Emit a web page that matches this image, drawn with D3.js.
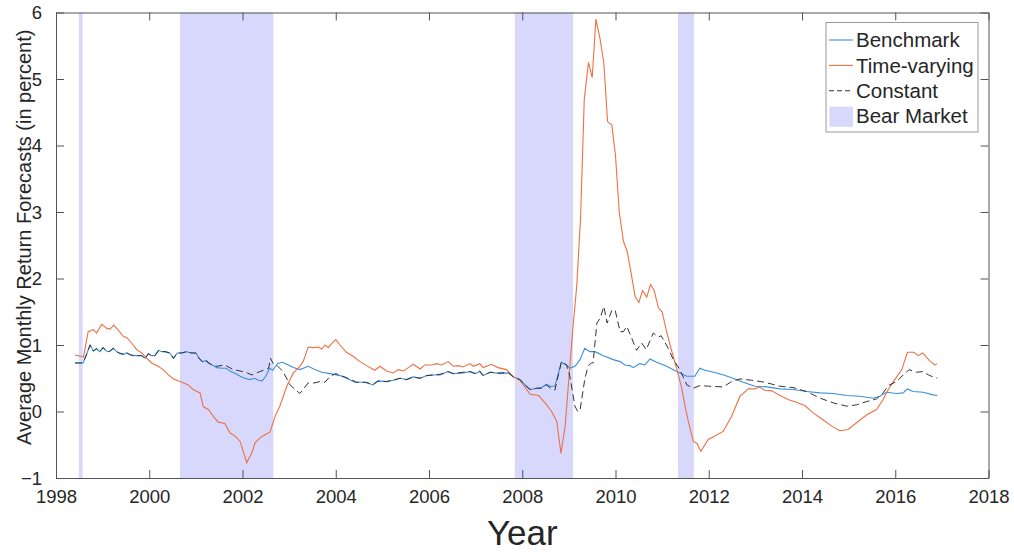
<!DOCTYPE html>
<html>
<head>
<meta charset="utf-8">
<script src="https://cdn.jsdelivr.net/npm/d3@7"></script>
<style>
  html, body { margin: 0; padding: 0; background: #fff; }
  svg { display: block; }
  text { font-family: "Liberation Sans", Arial, Helvetica, sans-serif; fill: #262626; }
</style>
</head>
<body>
<svg id="chart" width="1014" height="554"></svg>
<script>
// ---- Data ----
const xTicks = [1998, 2000, 2002, 2004, 2006, 2008, 2010, 2012, 2014, 2016, 2018];
const yTicks = [-1, 0, 1, 2, 3, 4, 5, 6];
const seriesNames = ["Benchmark", "Time-varying", "Constant", "Bear Market"];

const bearMarkets = [
  [1998.49, 1998.57],
  [2000.66, 2002.66],
  [2007.84, 2009.09],
  [2011.34, 2011.68]
];

const benchmark = [
  [1998.41,0.73],[1998.50,0.73],[1998.58,0.73],[1998.65,0.85],[1998.73,1.00],[1998.80,0.91],
  [1998.87,0.94],[1998.94,0.90],[1999.01,0.96],[1999.08,0.91],[1999.14,0.90],[1999.23,0.95],
  [1999.30,0.90],[1999.37,0.88],[1999.45,0.86],[1999.52,0.88],[1999.60,0.85],[1999.68,0.84],
  [1999.76,0.84],[1999.84,0.84],[1999.91,0.80],[1999.98,0.87],[2000.05,0.84],[2000.12,0.84],
  [2000.20,0.92],[2000.27,0.90],[2000.34,0.90],[2000.44,0.88],[2000.52,0.80],[2000.60,0.88],
  [2000.70,0.88],[2000.80,0.90],[2000.90,0.88],[2001.00,0.88],[2001.07,0.80],[2001.14,0.75],
  [2001.21,0.76],[2001.28,0.72],[2001.35,0.70],[2001.45,0.66],[2001.55,0.65],[2001.65,0.65],
  [2001.75,0.60],[2001.85,0.57],[2001.95,0.53],[2002.05,0.50],[2002.15,0.48],[2002.25,0.50],
  [2002.35,0.47],[2002.42,0.46],[2002.50,0.53],[2002.58,0.65],[2002.65,0.62],[2002.75,0.72],
  [2002.85,0.74],[2002.95,0.71],[2003.09,0.66],[2003.23,0.63],[2003.41,0.68],[2003.55,0.63],
  [2003.70,0.59],[2003.88,0.57],[2004.09,0.54],[2004.23,0.50],[2004.41,0.44],[2004.63,0.44],
  [2004.80,0.40],[2004.91,0.46],[2005.09,0.45],[2005.23,0.47],[2005.38,0.50],[2005.52,0.48],
  [2005.66,0.52],[2005.81,0.50],[2005.95,0.54],[2006.09,0.55],[2006.24,0.55],[2006.41,0.60],
  [2006.52,0.57],[2006.73,0.58],[2006.88,0.60],[2006.99,0.57],[2007.09,0.60],[2007.16,0.54],
  [2007.31,0.59],[2007.52,0.57],[2007.70,0.58],[2007.81,0.52],[2007.95,0.48],[2008.02,0.43],
  [2008.17,0.33],[2008.31,0.35],[2008.42,0.36],[2008.52,0.41],[2008.59,0.38],[2008.70,0.38],
  [2008.84,0.74],[2008.95,0.70],[2009.02,0.65],[2009.13,0.68],[2009.24,0.78],[2009.34,0.95],
  [2009.45,0.90],[2009.56,0.90],[2009.74,0.84],[2009.95,0.78],[2010.10,0.75],[2010.20,0.70],
  [2010.31,0.69],[2010.38,0.66],[2010.52,0.72],[2010.63,0.70],[2010.74,0.79],[2010.88,0.74],
  [2011.10,0.68],[2011.31,0.60],[2011.53,0.53],[2011.70,0.53],[2011.81,0.65],[2011.92,0.62],
  [2012.17,0.58],[2012.35,0.54],[2012.52,0.50],[2012.74,0.44],[2012.99,0.38],[2013.24,0.37],
  [2013.53,0.34],[2013.81,0.33],[2014.10,0.30],[2014.39,0.28],[2014.67,0.27],[2014.96,0.24],
  [2015.24,0.23],[2015.53,0.20],[2015.67,0.23],[2015.81,0.29],[2016.03,0.27],[2016.17,0.28],
  [2016.26,0.34],[2016.38,0.30],[2016.60,0.29],[2016.81,0.25],[2016.90,0.24]
];

const timeVarying = [
  [1998.41,0.85],[1998.59,0.82],[1998.69,1.20],[1998.80,1.23],[1998.87,1.18],[1998.98,1.31],
  [1999.09,1.25],[1999.16,1.24],[1999.24,1.30],[1999.34,1.22],[1999.44,1.13],[1999.52,1.11],
  [1999.62,1.03],[1999.73,0.93],[1999.84,0.88],[1999.95,0.80],[2000.05,0.73],[2000.19,0.68],
  [2000.30,0.63],[2000.41,0.55],[2000.52,0.49],[2000.66,0.45],[2000.84,0.40],[2000.94,0.33],
  [2001.09,0.28],[2001.16,0.07],[2001.27,0.03],[2001.37,-0.07],[2001.48,-0.16],[2001.62,-0.18],
  [2001.73,-0.32],[2001.84,-0.37],[2001.95,-0.45],[2002.09,-0.77],[2002.20,-0.62],[2002.27,-0.47],
  [2002.37,-0.40],[2002.48,-0.35],[2002.59,-0.31],[2002.70,-0.07],[2002.80,0.08],[2002.95,0.38],
  [2003.09,0.58],[2003.23,0.68],[2003.30,0.75],[2003.41,0.97],[2003.52,0.96],[2003.63,0.97],
  [2003.70,0.94],[2003.77,1.00],[2003.84,0.96],[2003.91,1.02],[2004.00,1.08],[2004.09,1.00],
  [2004.23,0.89],[2004.37,0.83],[2004.52,0.75],[2004.66,0.69],[2004.84,0.62],[2004.95,0.68],
  [2005.09,0.61],[2005.23,0.58],[2005.34,0.63],[2005.45,0.61],[2005.56,0.66],[2005.66,0.71],
  [2005.81,0.64],[2005.91,0.70],[2006.06,0.70],[2006.16,0.72],[2006.27,0.70],[2006.41,0.75],
  [2006.52,0.68],[2006.63,0.69],[2006.73,0.67],[2006.88,0.72],[2006.95,0.68],[2007.09,0.72],
  [2007.16,0.66],[2007.34,0.71],[2007.48,0.66],[2007.66,0.63],[2007.81,0.52],[2007.95,0.47],
  [2008.17,0.26],[2008.35,0.24],[2008.49,0.13],[2008.63,0.00],[2008.74,-0.15],[2008.83,-0.63],
  [2008.92,-0.22],[2009.00,0.50],[2009.08,1.20],[2009.17,1.90],[2009.25,2.90],[2009.33,4.69],
  [2009.42,5.25],[2009.50,5.02],[2009.58,5.90],[2009.67,5.60],[2009.75,5.24],[2009.83,4.36],
  [2009.92,4.31],[2010.00,3.85],[2010.08,3.00],[2010.17,2.56],[2010.25,2.41],[2010.33,2.10],
  [2010.42,1.73],[2010.50,1.64],[2010.58,1.82],[2010.67,1.72],[2010.75,1.91],[2010.83,1.82],
  [2010.92,1.56],[2011.00,1.50],[2011.08,1.25],[2011.17,1.00],[2011.25,0.80],[2011.33,0.60],
  [2011.42,0.35],[2011.50,0.05],[2011.58,-0.20],[2011.67,-0.45],[2011.75,-0.48],[2011.83,-0.60],
  [2011.99,-0.42],[2012.13,-0.37],[2012.31,-0.30],[2012.49,-0.07],[2012.67,0.23],[2012.85,0.34],
  [2012.99,0.34],[2013.08,0.37],[2013.20,0.32],[2013.35,0.31],[2013.53,0.24],[2013.70,0.18],
  [2013.88,0.14],[2014.06,0.09],[2014.24,-0.02],[2014.42,-0.11],[2014.64,-0.22],[2014.81,-0.29],
  [2014.99,-0.27],[2015.17,-0.17],[2015.39,-0.05],[2015.60,0.03],[2015.74,0.18],[2015.85,0.33],
  [2015.99,0.48],[2016.14,0.63],[2016.26,0.89],[2016.40,0.89],[2016.49,0.84],[2016.59,0.88],
  [2016.74,0.76],[2016.85,0.70],[2016.90,0.72]
];

const constant = [
  [1998.41,0.73],[1998.50,0.73],[1998.58,0.73],[1998.65,0.85],[1998.73,1.00],[1998.80,0.91],
  [1998.87,0.95],[1998.94,0.90],[1999.01,0.96],[1999.08,0.91],[1999.14,0.90],[1999.23,0.95],
  [1999.30,0.90],[1999.37,0.87],[1999.45,0.86],[1999.52,0.88],[1999.60,0.85],[1999.68,0.84],
  [1999.76,0.84],[1999.84,0.84],[1999.91,0.79],[1999.98,0.87],[2000.05,0.84],[2000.12,0.84],
  [2000.20,0.92],[2000.27,0.90],[2000.34,0.90],[2000.44,0.88],[2000.52,0.80],[2000.60,0.88],
  [2000.70,0.88],[2000.80,0.90],[2000.90,0.88],[2001.00,0.88],[2001.07,0.80],[2001.14,0.75],
  [2001.21,0.78],[2001.28,0.73],[2001.35,0.70],[2001.45,0.68],[2001.62,0.70],[2001.80,0.63],
  [2001.95,0.61],[2002.10,0.58],[2002.20,0.55],[2002.30,0.58],[2002.45,0.62],[2002.56,0.65],
  [2002.60,0.80],[2002.66,0.72],[2002.73,0.70],[2002.87,0.60],[2003.02,0.40],[2003.23,0.27],
  [2003.41,0.43],[2003.55,0.43],[2003.66,0.45],[2003.77,0.44],[2003.88,0.53],[2004.00,0.57],
  [2004.23,0.51],[2004.45,0.44],[2004.63,0.44],[2004.80,0.41],[2004.91,0.46],[2005.09,0.45],
  [2005.23,0.47],[2005.38,0.50],[2005.52,0.48],[2005.66,0.52],[2005.81,0.50],[2005.95,0.54],
  [2006.09,0.55],[2006.24,0.56],[2006.41,0.60],[2006.52,0.57],[2006.73,0.59],[2006.88,0.60],
  [2006.99,0.57],[2007.09,0.61],[2007.16,0.54],[2007.31,0.59],[2007.52,0.58],[2007.70,0.59],
  [2007.81,0.52],[2007.95,0.48],[2008.02,0.42],[2008.17,0.33],[2008.31,0.35],[2008.42,0.35],
  [2008.52,0.40],[2008.59,0.36],[2008.70,0.32],[2008.84,0.75],[2008.95,0.70],[2009.02,0.53],
  [2009.13,0.08],[2009.19,0.00],[2009.24,0.02],[2009.34,0.48],[2009.41,0.68],[2009.48,0.73],
  [2009.52,0.73],[2009.60,1.33],[2009.67,1.40],[2009.75,1.58],[2009.82,1.33],[2009.92,1.52],
  [2009.99,1.53],[2010.10,1.20],[2010.17,1.20],[2010.24,1.28],[2010.34,1.12],[2010.45,0.92],
  [2010.56,1.03],[2010.66,0.93],[2010.81,1.18],[2010.92,1.12],[2010.98,1.14],[2011.13,0.95],
  [2011.24,0.78],[2011.38,0.63],[2011.53,0.40],[2011.67,0.35],[2011.81,0.39],[2012.00,0.38],
  [2012.31,0.37],[2012.49,0.45],[2012.67,0.49],[2012.92,0.47],[2013.20,0.44],[2013.53,0.38],
  [2013.81,0.36],[2014.10,0.30],[2014.39,0.20],[2014.67,0.13],[2014.96,0.08],[2015.17,0.10],
  [2015.39,0.15],[2015.60,0.19],[2015.74,0.28],[2015.85,0.39],[2016.03,0.45],[2016.17,0.55],
  [2016.30,0.63],[2016.45,0.59],[2016.59,0.60],[2016.74,0.54],[2016.90,0.50]
];

// ---- Layout ----
const svg = d3.select("#chart");
const margin = { left: 56, right: 1014 - 988.5, top: 12.5, bottom: 554 - 478 };
const W = 1014, H = 554;
const x = d3.scaleLinear().domain([1998, 2018]).range([margin.left, W - margin.right]);
const y = d3.scaleLinear().domain([-1, 6]).range([H - margin.bottom, margin.top]);

const colors = { bench: "#3b8fd9", tv: "#ec7144", cons: "#333333", bear: "#d8d8fc" };

// Bear market shading
svg.append("g").selectAll("rect").data(bearMarkets).join("rect")
  .attr("x", d => x(d[0]))
  .attr("width", d => x(d[1]) - x(d[0]))
  .attr("y", y(6))
  .attr("height", y(-1) - y(6))
  .attr("fill", colors.bear);

const line = d3.line().x(d => x(d[0])).y(d => y(d[1]));

svg.append("path").datum(benchmark).attr("d", line)
  .attr("fill", "none").attr("stroke", colors.bench).attr("stroke-width", 1.1);
svg.append("path").datum(timeVarying).attr("d", line)
  .attr("fill", "none").attr("stroke", colors.tv).attr("stroke-width", 1.1);
svg.append("path").datum(constant).attr("d", line)
  .attr("fill", "none").attr("stroke", colors.cons).attr("stroke-width", 1)
  .attr("stroke-dasharray", "7,4");

// Axes (ticks inside, mirrored)
const axisColor = "#555";
const tickLen = 8;
const gBottom = svg.append("g").attr("transform", `translate(0,${y(-1)})`)
  .call(d3.axisBottom(x).tickValues(xTicks).tickFormat(d3.format("d")).tickSizeInner(-tickLen).tickSizeOuter(0).tickPadding(21));
const gTop = svg.append("g").attr("transform", `translate(0,${y(6)})`)
  .call(d3.axisTop(x).tickValues(xTicks).tickFormat("").tickSizeInner(-tickLen).tickSizeOuter(0));
const gLeft = svg.append("g").attr("transform", `translate(${x(1998)},0)`)
  .call(d3.axisLeft(y).tickValues(yTicks).tickFormat(d3.format("d")).tickSizeInner(-tickLen).tickSizeOuter(0).tickPadding(14));
const gRight = svg.append("g").attr("transform", `translate(${x(2018)},0)`)
  .call(d3.axisRight(y).tickValues(yTicks).tickFormat("").tickSizeInner(-tickLen).tickSizeOuter(0));

[gBottom, gTop, gLeft, gRight].forEach(g => {
  g.select(".domain").attr("stroke", axisColor).attr("stroke-width", 1);
  g.selectAll(".tick line").attr("stroke", axisColor).attr("stroke-width", 1);
  g.selectAll(".tick text").attr("font-size", 18.5).attr("fill", "#262626")
    .attr("font-family", '"Liberation Sans", Arial, sans-serif');
});
gLeft.selectAll(".tick text").attr("dy", "0.35em");
gBottom.selectAll(".tick text").attr("dy", "0.2em");

// Axis labels
svg.append("text")
  .attr("x", (x(1998) + x(2018)) / 2).attr("y", 545)
  .attr("text-anchor", "middle").attr("font-size", 35).text("Year");
svg.append("text")
  .attr("transform", `translate(31,${(y(6) + y(-1)) / 2 - 8}) rotate(-90)`)
  .attr("text-anchor", "middle").attr("font-size", 20)
  .text("Average Monthly Return Forecasts (in percent)");

// Legend
const lg = svg.append("g");
const lx = 826, ly = 22.5, lw = 152, lh = 109.5;
lg.append("rect").attr("x", lx).attr("y", ly).attr("width", lw).attr("height", lh)
  .attr("fill", "#fff").attr("stroke", "#999").attr("stroke-width", 1);
const rowY = i => 40 + i * 25.4;
const legendStyles = [
  { type: "line", color: colors.bench, dash: null },
  { type: "line", color: colors.tv, dash: null },
  { type: "line", color: colors.cons, dash: "5,3" },
  { type: "patch", color: colors.bear }
];
seriesNames.forEach((name, i) => {
  const s = legendStyles[i];
  if (s.type === "line") {
    lg.append("line").attr("x1", 829).attr("x2", 853).attr("y1", rowY(i)).attr("y2", rowY(i))
      .attr("stroke", s.color).attr("stroke-width", 1.1)
      .attr("stroke-dasharray", s.dash);
  } else {
    lg.append("rect").attr("x", 829.5).attr("y", rowY(i) - 9.5).attr("width", 23.5).attr("height", 20)
      .attr("fill", s.color);
  }
  lg.append("text").attr("x", 856).attr("y", rowY(i)).attr("dy", "0.35em")
    .attr("font-size", 20.5).text(name);
});
</script>
</body>
</html>
